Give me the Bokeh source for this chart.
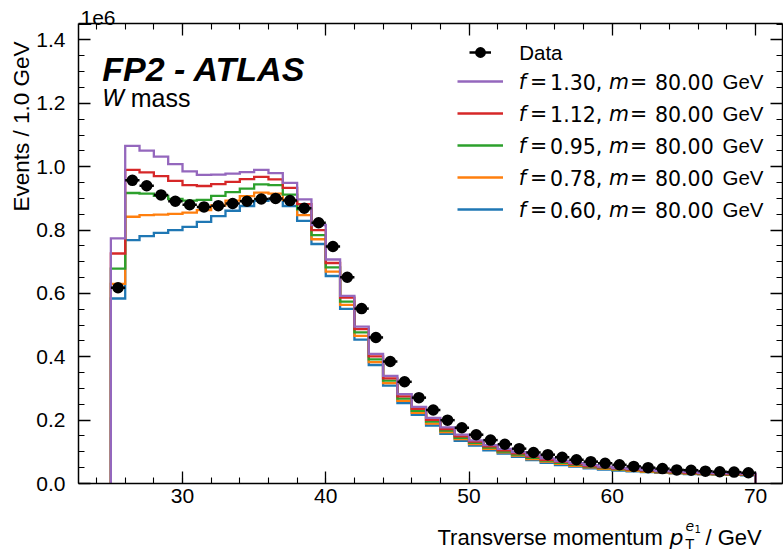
import math
import numpy as np
from bokeh.plotting import figure
from bokeh.models import (Range1d, LinearAxis, SingleIntervalTicker, Label, Legend, LegendItem,
                          NumeralTickFormatter, CustomJSTickFormatter)
from bokeh.embed import file_html
from bokeh.resources import INLINE

# ---------------- data (values in units of 1e6 events per 1 GeV bin) ----------------
bin_edges = np.arange(25, 71)  # 25 ... 70 GeV, 1 GeV bins

data_vals = [0.618, 0.957, 0.940, 0.911, 0.891, 0.880, 0.873, 0.877, 0.884, 0.891,
             0.898, 0.900, 0.893, 0.869, 0.823, 0.748, 0.651, 0.552, 0.461, 0.385,
             0.321, 0.271, 0.232, 0.200, 0.176, 0.154, 0.137, 0.124, 0.110, 0.098,
             0.091, 0.083, 0.075, 0.069, 0.064, 0.059, 0.054, 0.050, 0.047, 0.043,
             0.042, 0.039, 0.037, 0.036, 0.034]

pred_f130 = [0.774, 1.066, 1.051, 1.032, 1.008, 0.985, 0.974, 0.975, 0.978, 0.983,
             0.990, 0.980, 0.949, 0.897, 0.816, 0.707, 0.592, 0.495, 0.409, 0.340,
             0.282, 0.242, 0.207, 0.177, 0.154, 0.136, 0.121, 0.109, 0.099, 0.089,
             0.079, 0.071, 0.064, 0.058, 0.053, 0.049, 0.046, 0.043, 0.040, 0.038,
             0.036, 0.034, 0.033, 0.032, 0.031]

pred_f112 = [0.726, 0.990, 0.982, 0.970, 0.955, 0.942, 0.939, 0.945, 0.952, 0.961,
             0.968, 0.960, 0.933, 0.882, 0.800, 0.696, 0.587, 0.487, 0.401, 0.332,
             0.275, 0.236, 0.201, 0.172, 0.149, 0.132, 0.117, 0.105, 0.095, 0.085,
             0.075, 0.068, 0.061, 0.055, 0.051, 0.047, 0.044, 0.041, 0.038, 0.036,
             0.034, 0.032, 0.031, 0.030, 0.029]

pred_f095 = [0.678, 0.917, 0.915, 0.908, 0.898, 0.893, 0.895, 0.908, 0.920, 0.931,
             0.944, 0.942, 0.912, 0.865, 0.784, 0.682, 0.574, 0.477, 0.392, 0.325,
             0.268, 0.229, 0.195, 0.167, 0.144, 0.128, 0.113, 0.101, 0.091, 0.081,
             0.072, 0.065, 0.059, 0.053, 0.049, 0.045, 0.042, 0.039, 0.037, 0.035,
             0.033, 0.031, 0.030, 0.029, 0.028]

pred_f078 = [0.630, 0.842, 0.847, 0.849, 0.851, 0.855, 0.863, 0.878, 0.893, 0.907,
             0.918, 0.915, 0.895, 0.847, 0.771, 0.669, 0.564, 0.466, 0.383, 0.317,
             0.261, 0.223, 0.189, 0.162, 0.140, 0.124, 0.109, 0.098, 0.088, 0.077,
             0.069, 0.062, 0.056, 0.051, 0.046, 0.043, 0.040, 0.037, 0.035, 0.033,
             0.031, 0.030, 0.029, 0.028, 0.027]

pred_f060 = [0.584, 0.768, 0.781, 0.791, 0.800, 0.810, 0.826, 0.844, 0.861, 0.876,
             0.892, 0.897, 0.876, 0.829, 0.756, 0.655, 0.551, 0.454, 0.374, 0.309,
             0.254, 0.217, 0.183, 0.157, 0.135, 0.120, 0.105, 0.094, 0.084, 0.074,
             0.065, 0.058, 0.053, 0.048, 0.044, 0.041, 0.038, 0.036, 0.034, 0.032,
             0.030, 0.029, 0.028, 0.027, 0.026]

f_labels = ["1.30", "1.12", "0.95", "0.78", "0.60"]
m_label = "80.00"
model_vals = [pred_f130, pred_f112, pred_f095, pred_f078, pred_f060]
model_colors = ["#9467bd", "#d62728", "#2ca02c", "#ff7f0e", "#1f77b4"]

# axes box limits (data) and where it sits on the page (pixels)
AX_X0, AX_X1, AX_Y0, AX_Y1 = 22.74, 71.88, 0.0, 1.452
W, H = 783, 550
BL, BR, BT, BB = 78, 782, 23, 483

# the frame covers the whole canvas; axes are drawn at fixed locations on the box edges
sx = (BR - BL) / (AX_X1 - AX_X0)
sy = (BB - BT) / (AX_Y1 - AX_Y0)
xr = Range1d(AX_X0 - BL / sx, AX_X1 + (W - BR) / sx)
yr = Range1d(AX_Y0 - (H - BB) / sy, AX_Y1 + BT / sy)

p = figure(width=W, height=H, output_backend="svg", toolbar_location=None,
           x_range=xr, y_range=yr, x_axis_location=None, y_axis_location=None,
           min_border=0)
p.title.visible = False
p.xgrid.visible = False
p.ygrid.visible = False
p.outline_line_color = None
p.background_fill_color = "white"
p.border_fill_color = "white"

TICK_FONT = "Liberation Sans"


def style_axis(ax, show_labels):
    ax.axis_line_color = "black"
    ax.axis_line_width = 1.5
    ax.major_tick_in = 12
    ax.major_tick_out = 0
    ax.minor_tick_in = 6
    ax.minor_tick_out = 0
    ax.major_tick_line_width = 1.3
    ax.minor_tick_line_width = 1.1
    ax.major_tick_line_color = "black"
    ax.minor_tick_line_color = "black"
    if show_labels:
        ax.major_label_text_font = TICK_FONT
        ax.major_label_text_font_size = "21px"
        ax.major_label_text_color = "black"
    else:
        ax.formatter = CustomJSTickFormatter(code="return ''")
        ax.major_label_text_font_size = "1px"
        ax.major_label_standoff = 0


def xticker():
    return SingleIntervalTicker(interval=10, num_minor_ticks=5)


def yticker():
    return SingleIntervalTicker(interval=0.2, num_minor_ticks=4)


xb = LinearAxis(ticker=xticker(), fixed_location=AX_Y0, bounds=(AX_X0, AX_X1))
style_axis(xb, True)
xb.major_label_standoff = 5
p.add_layout(xb, "below")

xt = LinearAxis(ticker=xticker(), fixed_location=AX_Y1, bounds=(AX_X0, AX_X1))
style_axis(xt, False)
p.add_layout(xt, "above")

yl = LinearAxis(ticker=yticker(), formatter=NumeralTickFormatter(format="0.0"),
                fixed_location=AX_X0, bounds=(AX_Y0, AX_Y1))
style_axis(yl, True)
yl.major_label_standoff = 13
p.add_layout(yl, "left")

yrax = LinearAxis(ticker=yticker(), fixed_location=AX_X1, bounds=(AX_Y0, AX_Y1))
style_axis(yrax, False)
p.add_layout(yrax, "right")

# ---------------- histograms (step outlines) ----------------
step_x = np.repeat(bin_edges, 2)
line_r = {}
for vals, col in list(zip(model_vals, model_colors))[::-1]:
    step_y = np.concatenate([[0.0], np.repeat(np.asarray(vals), 2), [0.0]])
    line_r[col] = p.line(step_x, step_y, line_color=col, line_width=2.3, line_join="miter")

# ---------------- data points ----------------
centers = (bin_edges[:-1] + bin_edges[1:]) / 2.0
half_w = (bin_edges[1:] - bin_edges[:-1]) / 2.0
whisk = p.segment(x0=centers - half_w, x1=centers + half_w, y0=data_vals, y1=data_vals,
                  line_color="black", line_width=2.5)
dots = p.scatter(centers, data_vals, size=9.5, fill_color="black", line_color="black",
                 line_width=2)

# ---------------- legends (positions: bottom-left corner, px from canvas bottom-left) ----
legA = Legend(items=[LegendItem(label=" ", renderers=[whisk, dots])],
              location=(469, H - 67), glyph_width=22, glyph_height=30, label_height=30,
              label_text_font_size="1px", label_width=1, label_standoff=0,
              padding=0, margin=0, spacing=0, border_line_alpha=0,
              background_fill_alpha=0)
p.add_layout(legA)

legB = Legend(items=[LegendItem(label=" ", renderers=[line_r[c]]) for c in model_colors],
              location=(457, H - 225), glyph_width=46, glyph_height=32, label_height=32,
              label_text_font_size="1px", label_width=1, label_standoff=0,
              padding=0, margin=0, spacing=0, border_line_alpha=0,
              background_fill_alpha=0)
p.add_layout(legB)


# ---------------- texts (page pixel positions, frame == canvas) ----------------
def lab(text, X, Y, font="Liberation Sans", size=20, style="normal", align="left",
        baseline="alphabetic", angle=0.0):
    p.add_layout(Label(x=X, y=H - Y, x_units="screen", y_units="screen", text=text,
                       text_font=font, text_font_size=f"{size}px", text_font_style=style,
                       text_align=align, text_baseline=baseline, text_color="black",
                       angle=angle))


MATH = "DejaVu Sans"
lab("FP2 - ATLAS", 101.7, 68.3, size=34, style="bold italic")
lab("W", 101.7, 97.7, font=MATH, size=23, style="italic")
lab("mass", 130.2, 97.7, size=25)
lab("1e6", 80, 17, size=21)

# legend labels
lab("Data", 518.7, 51.7, size=20.5, baseline="middle")
row_y = [81, 113, 145, 177, 209]
for fl, yc in zip(f_labels, row_y):
    lab("f", 518.2, yc, font=MATH, size=20.5, style="italic", baseline="middle")
    lab("=", 529.5, yc, font=MATH, size=20.5, baseline="middle")
    lab(fl + ",", 549.6, yc, font=MATH, size=20.5, baseline="middle")
    lab("m", 608.5, yc, font=MATH, size=20.5, style="italic", baseline="middle")
    lab("=", 629.5, yc, font=MATH, size=20.5, baseline="middle")
    lab(m_label, 654.5, yc, font=MATH, size=20.5, baseline="middle")
    lab("GeV", 722, yc, size=20.5, baseline="middle")

# axis titles
lab("Events / 1.0 GeV", 20.5, 126, size=22.5, align="center", baseline="middle",
    angle=math.pi / 2)
lab("Transverse momentum", 437, 537, size=22)
lab("p", 669, 537, font=MATH, size=22, style="italic")
lab("T", 685, 543, font=MATH, size=14)
lab("e", 685, 525, font=MATH, size=14, style="italic")
lab("1", 694, 528, font=MATH, size=10)
lab("/ GeV", 705, 537, size=22)

open("out.html", "w").write(file_html(p, INLINE))
